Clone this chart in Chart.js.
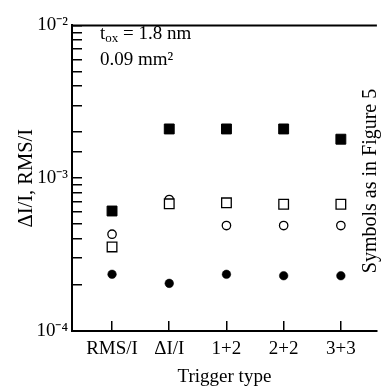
<!DOCTYPE html>
<html>
<head>
<meta charset="utf-8">
<script src="https://cdn.jsdelivr.net/npm/chart.js@4"></script>
<style>
  body { margin: 0; background: #fff; }
</style>
</head>
<body>
<canvas id="chart" width="385" height="392"></canvas>
<script>
// categorias do eixo x
const categories = ['RMS/I', '\u0394I/I', '1+2', '2+2', '3+3'];

// valores (escala log)
const filledSquares = [6.1e-4, 2.1e-3, 2.1e-3, 2.1e-3, 1.8e-3];
const openSquares   = [3.55e-4, 6.8e-4, 6.9e-4, 6.75e-4, 6.75e-4];
const openCircles   = [4.3e-4, 7.25e-4, 4.9e-4, 4.9e-4, 4.9e-4];
const filledCircles = [2.35e-4, 2.05e-4, 2.35e-4, 2.3e-4, 2.3e-4];

// rótulos das décadas do eixo y
const yTicks = [1e-4, 1e-3, 1e-2];
const yTickLabels = ['10\u207B\u2074', '10\u207B\u00B3', '10\u207B\u00B2'];

const FONT = "'Liberation Serif', 'Times New Roman', serif";

function toPoints(values) {
    return values.map((v, i) => ({ x: i, y: v }));
}

// textos soltos dentro e ao lado do gráfico
const notesPlugin = {
    id: 'notes',
    afterDraw(chart) {
        const ctx = chart.ctx;
        const area = chart.chartArea;
        ctx.save();
        ctx.fillStyle = '#000';

        // linha superior da moldura
        ctx.strokeStyle = '#000';
        ctx.lineWidth = 2;
        ctx.beginPath();
        ctx.moveTo(area.left, area.top);
        ctx.lineTo(area.right, area.top);
        ctx.stroke();

        // t_ox = 1.8 nm
        ctx.textBaseline = 'alphabetic';
        ctx.textAlign = 'left';
        ctx.font = '19px ' + FONT;
        let x = 100;
        ctx.fillText('t', x, 39);
        x += ctx.measureText('t').width;
        ctx.font = '13px ' + FONT;
        ctx.fillText('ox', x, 42);
        x += ctx.measureText('ox').width;
        ctx.font = '19px ' + FONT;
        ctx.fillText(' = 1.8 nm', x, 39);

        // área
        ctx.fillText('0.09 mm\u00B2', 100, 65);

        // texto vertical à direita
        ctx.translate(376, 181);
        ctx.rotate(-Math.PI / 2);
        ctx.textAlign = 'center';
        ctx.font = '20px ' + FONT;
        ctx.fillText('Symbols as in Figure 5', 0, 0);
        ctx.restore();
    }
};

const ctx = document.getElementById('chart').getContext('2d');
const chart = new Chart(ctx, {
    type: 'scatter',
    data: {
        datasets: [
            {
                label: 'filled squares',
                data: toPoints(filledSquares),
                pointStyle: 'rect',
                pointRadius: 7,
                backgroundColor: '#000',
                borderColor: '#000',
                borderWidth: 1
            },
            {
                label: 'open squares',
                data: toPoints(openSquares),
                pointStyle: 'rect',
                pointRadius: 6.8,
                backgroundColor: '#fff',
                borderColor: '#000',
                borderWidth: 1.3
            },
            {
                label: 'open circles',
                data: toPoints(openCircles),
                pointStyle: 'circle',
                pointRadius: 4.2,
                backgroundColor: '#fff',
                borderColor: '#000',
                borderWidth: 1.3
            },
            {
                label: 'filled circles',
                data: toPoints(filledCircles),
                pointStyle: 'circle',
                pointRadius: 4.3,
                backgroundColor: '#000',
                borderColor: '#000',
                borderWidth: 0.5
            }
        ]
    },
    options: {
        responsive: false,
        animation: false,
        layout: {
            padding: { top: 14, right: 0, left: 0, bottom: 0 }
        },
        plugins: {
            legend: { display: false },
            tooltip: { enabled: false }
        },
        scales: {
            x: {
                type: 'linear',
                min: -0.7,
                max: 4.63,
                afterBuildTicks: (scale) => {
                    scale.ticks = categories.map((c, i) => ({ value: i }));
                },
                afterFit: (scale) => { scale.height = 61; },
                ticks: {
                    callback: (value) => categories[value],
                    color: '#000',
                    font: { size: 19, family: FONT },
                    padding: 17,
                    maxRotation: 0,
                    autoSkip: false
                },
                grid: {
                    drawOnChartArea: false,
                    tickLength: -10,
                    color: '#000',
                    lineWidth: 1.5
                },
                border: { display: true, color: '#000', width: 2 },
                title: {
                    display: true,
                    text: 'Trigger type',
                    color: '#000',
                    font: { size: 19, family: FONT },
                    padding: { top: 0, bottom: 4 }
                }
            },
            y: {
                type: 'logarithmic',
                min: 1e-4,
                max: 1e-2,
                afterFit: (scale) => { scale.width = 72; },
                ticks: {
                    callback: (value) => {
                        const k = yTicks.findIndex(t => Math.abs(t - value) / t < 1e-6);
                        return k >= 0 ? yTickLabels[k] : '';
                    },
                    color: '#000',
                    font: { size: 19, family: FONT },
                    padding: 14,
                    autoSkip: false
                },
                grid: {
                    drawOnChartArea: false,
                    tickLength: -10,
                    color: '#000',
                    lineWidth: 1.5
                },
                border: { display: true, color: '#000', width: 2 },
                title: {
                    display: true,
                    text: '\u0394I/I, RMS/I',
                    color: '#000',
                    font: { size: 20.5, family: FONT },
                    padding: { top: 14, bottom: 0 }
                }
            }
        }
    },
    plugins: [notesPlugin]
});
</script>
</body>
</html>
